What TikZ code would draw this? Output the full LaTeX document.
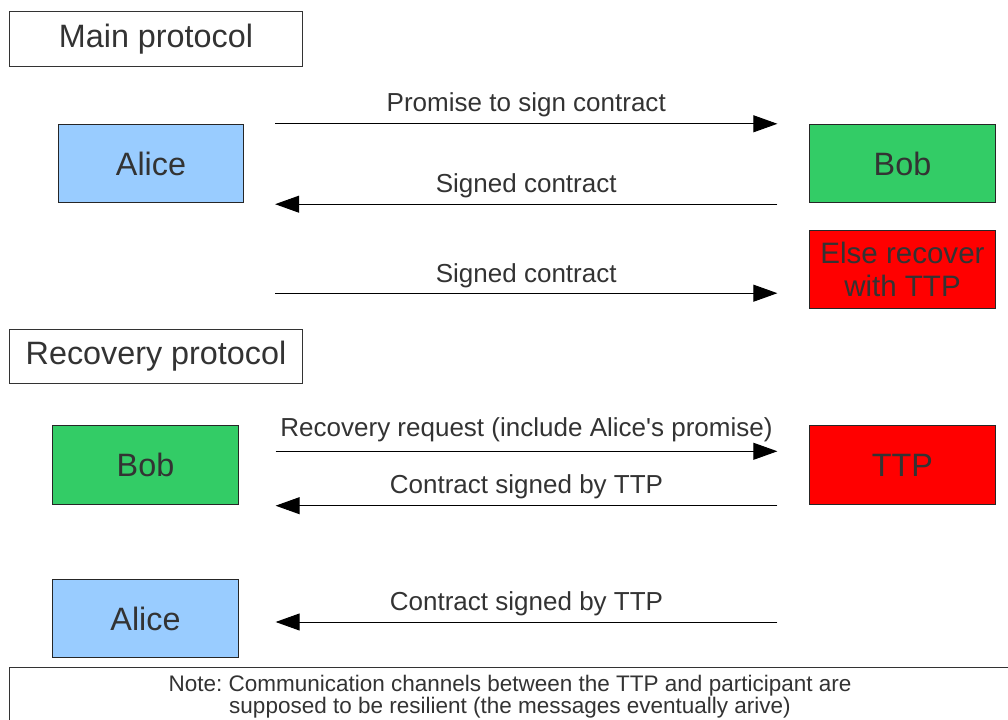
\documentclass[tikz,border=0pt]{standalone}
\usepackage{fontspec}
\setmainfont{Liberation Sans}
\usepackage{xcolor}
\usetikzlibrary{arrows.meta, positioning, calc}

\definecolor{txtgray}{HTML}{333333}
\definecolor{alicecol}{HTML}{99CCFF}
\definecolor{bobcol}{HTML}{33CC66}
\definecolor{ttpcol}{HTML}{FF0000}

\begin{document}
\begin{tikzpicture}[
    x=0.025cm, y=-0.025cm,
    header/.style={rectangle, draw=black!80, line width=0.7pt, minimum width=7.3cm, minimum height=1.35cm, text=txtgray, font=\fontsize{23}{27}\selectfont},
    party/.style={rectangle, draw=black!85, line width=0.7pt, minimum width=4.63cm, minimum height=1.96cm, text=txtgray, font=\fontsize{23}{27}\selectfont, align=center},
    msglabel/.style={midway, above, text=txtgray, font=\fontsize{18.5}{22}\selectfont},
    arrow/.style={-{Triangle[length=17pt, width=12pt]}, line width=0.7pt}
]
\useasboundingbox (0,0) rectangle (1008,720);

% main protocol
\node[header] (mainhdr) at (156,39) {Main protocol};
\node[party, fill=alicecol] (alice) at (151,163.5) {Alice};
\node[party, fill=bobcol] (bob) at (902.5,163.5) {Bob};
\node[party, fill=ttpcol, font=\fontsize{21}{24}\selectfont] (recover) at (902.5,269.5) {Else recover\\with TTP};

\draw[arrow] ($(alice.north east)+(31,0)$) -- ($(bob.north west)+(-32,0)$)
    node[msglabel, yshift=1pt] (m1) {Promise to sign contract};
\draw[arrow] ($(bob.south west)+(-32,1)$) -- ($(alice.south east)+(31,1)$)
    node[msglabel, yshift=1pt] (m2) {Signed contract};
\draw[arrow] ($(alice.east |- recover.south)+(31,-16)$) -- ($(recover.south west)+(-32,-16)$)
    node[msglabel] (m3) {Signed contract};

% recovery protocol
\node[header] (rechdr) at (156,356.5) {Recovery protocol};
\node[party, fill=bobcol] (bobr) at (145.5,465) {Bob};
\node[party, fill=ttpcol] (ttp) at (902.5,465) {TTP};
\node[party, fill=alicecol] (alicer) at (145.5,618.5) {Alice};

\draw[arrow] ($(bobr.north east)+(37,26)$) -- ($(ttp.north west)+(-32,26)$)
    node[msglabel, yshift=3pt] (m4) {Recovery request (include Alice\textquotesingle s promise)};
\draw[arrow] ($(ttp.south west)+(-32,1)$) -- ($(bobr.south east)+(37,1)$)
    node[msglabel, yshift=1pt] (m5) {Contract signed by TTP};
\draw[arrow] ($(ttp.west |- alicer.east)+(-32,3.5)$) -- ($(alicer.east)+(37,3.5)$)
    node[msglabel, yshift=1pt] (m6) {Contract signed by TTP};

% note
\node[rectangle, draw=black!80, line width=0.7pt, minimum width=25cm, minimum height=1.45cm, text=txtgray, align=center, font=\fontsize{16}{15.8}\selectfont\frenchspacing] (note) at (510,697)
    {Note: Communication channels between the TTP and participant are\\supposed to be resilient (the messages eventually arive)};
\end{tikzpicture}
\end{document}
